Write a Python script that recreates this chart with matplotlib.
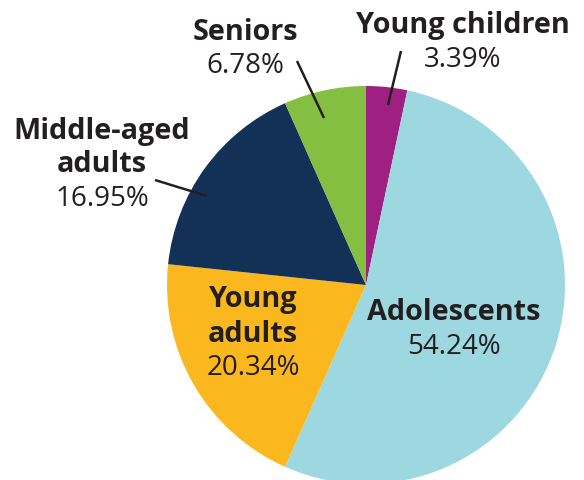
import matplotlib.pyplot as plt

# Age group shares (%), clockwise from 12 o'clock
groups = ['Young children', 'Adolescents', 'Young adults', 'Middle-aged adults', 'Seniors']
shares = [3.39, 54.24, 20.34, 16.95, 6.78]
colors = ['#9E2181', '#9DD8E0', '#FBB81E', '#133056', '#84BF41']

W, H = 584, 481
fig = plt.figure(figsize=(W / 100, H / 100), dpi=100)
ax = fig.add_axes([0, 0, 1, 1])

ax.pie(shares, colors=colors, startangle=90, counterclock=False,
       center=(366, H - 286), radius=199, frame=True,
       wedgeprops=dict(linewidth=0))
ax.set_xlim(0, W)
ax.set_ylim(0, H)
ax.axis('off')

txt = '#231F20'
font = 'Open Sans'


def label(x, y, lines):
    # lines: list of (text, bold) from top to bottom, y in pixels from top
    for i, (s, bold) in enumerate(lines):
        ax.text(x, H - (y + i * 34), s, ha='center', va='center', color=txt,
                fontsize=20.8 if bold else 20, fontfamily=font,
                fontweight='bold' if bold else 'normal')


def leader(p1, p2):
    ax.plot([p1[0], p2[0]], [H - p1[1], H - p2[1]], color=txt, lw=1.8,
            solid_capstyle='butt')


label(463, 26, [('Young children', True), (f'{shares[0]:.2f}%', False)])
label(245, 32, [('Seniors', True), (f'{shares[4]:.2f}%', False)])
label(102, 131, [('Middle-aged', True), ('adults', True), (f'{shares[3]:.2f}%', False)])
label(253, 300, [('Young', True), ('adults', True), (f'{shares[2]:.2f}%', False)])
label(454, 313, [('Adolescents', True), (f'{shares[1]:.2f}%', False)])

leader((401, 52), (388, 106))
leader((297, 62), (324, 119))
leader((155, 181), (207, 197))

fig.savefig('out.png', dpi=100)
